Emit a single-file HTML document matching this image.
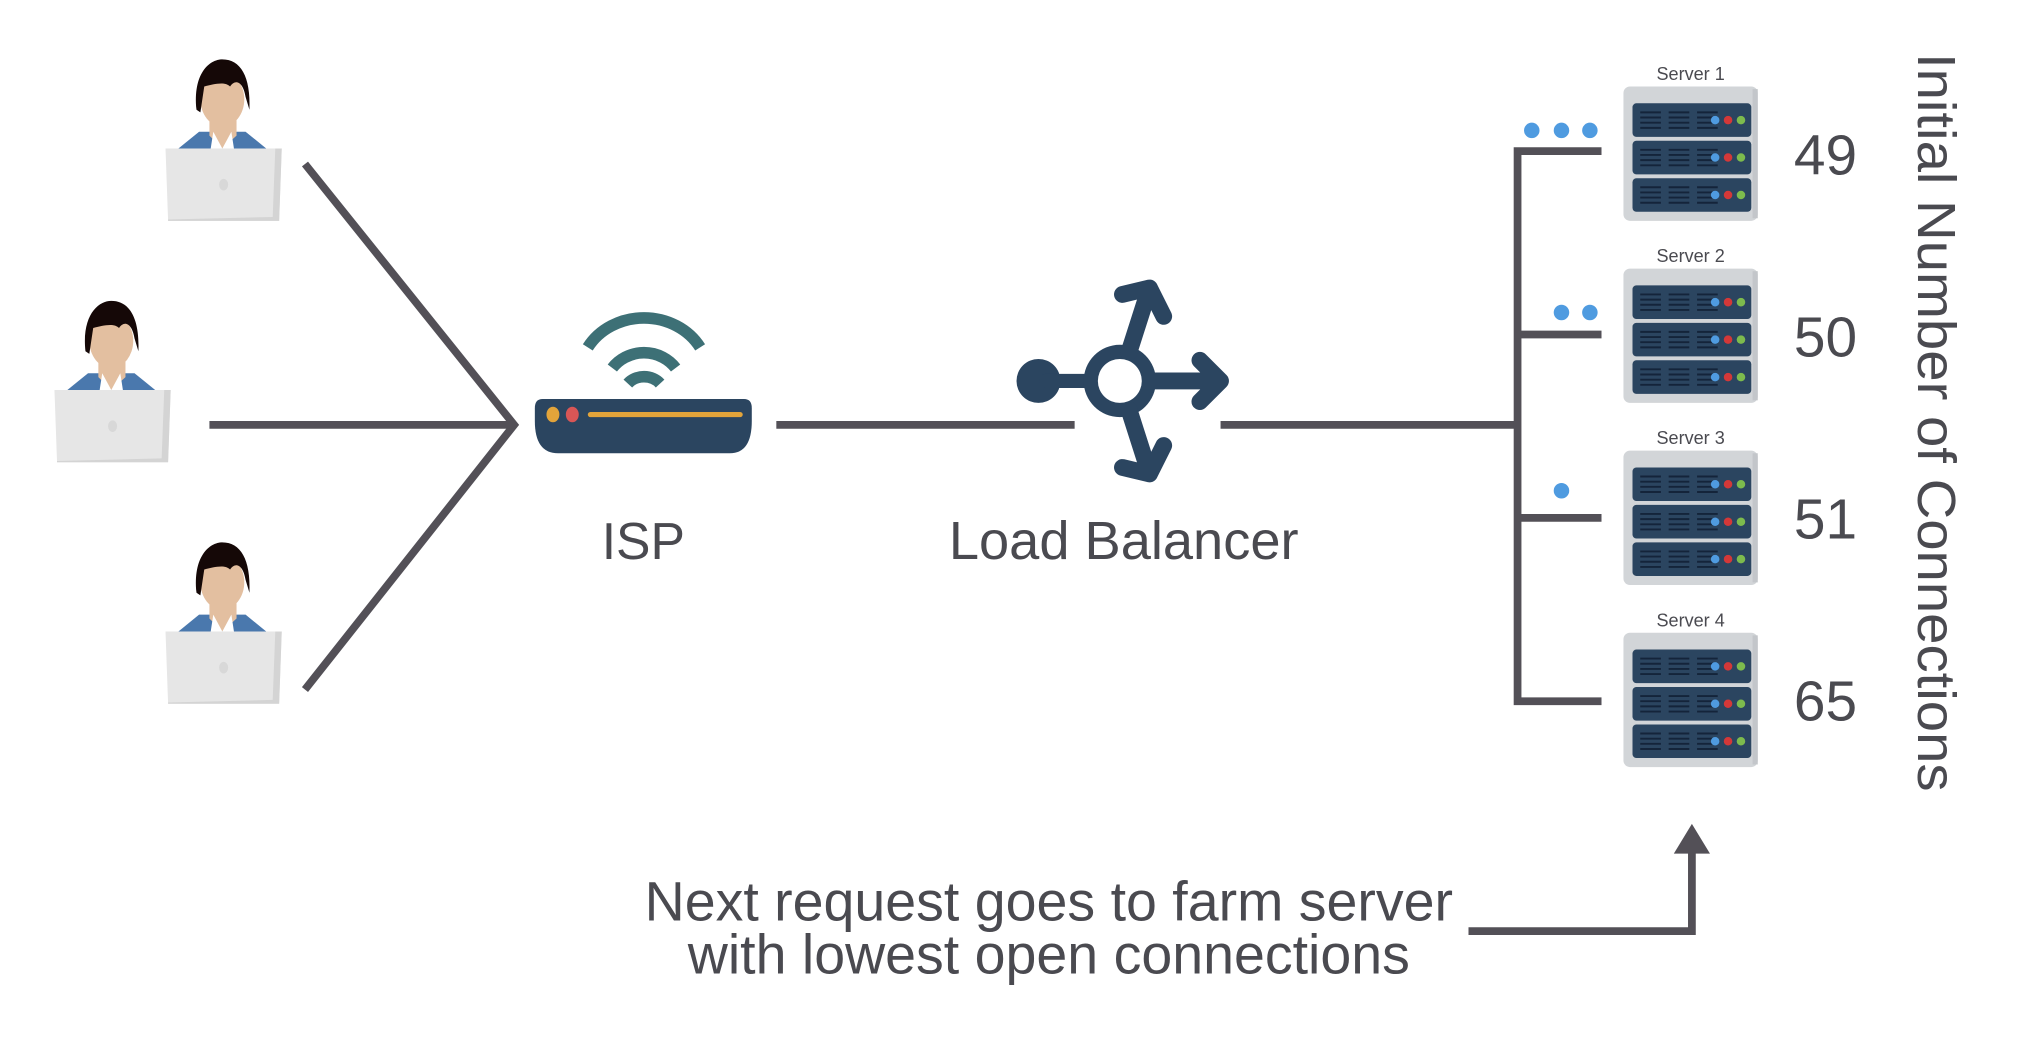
<!DOCTYPE html>
<html><head><meta charset="utf-8"><style>
html,body{margin:0;padding:0;background:#fff;}
svg{display:block}
text{font-family:"Liberation Sans",sans-serif;fill:#4a4a50}
</style></head><body>
<svg width="2024" height="1046" viewBox="0 -1 1567 810" xmlns="http://www.w3.org/2000/svg">
<defs>
<g id="person">
  <path d="M-34,44 L-18,31 L18,31 L34,44 Z" fill="#4a78ad"/>
  <path d="M-10,22 L11,22 L11,34 L0,44 L-10,34 Z" fill="#e3bfa0"/>
  <path d="M-7,31 L0,44 L7,31 L9,44 L-9,44Z" fill="#fff"/>
  <ellipse cx="0" cy="6" rx="17" ry="21" fill="#e3bfa0"/>
  <path d="M-20,14 C-23,-14 -10,-25 0,-25 C14,-25 22,-12 21,14 L18,4 C16,-8 10,-10 6,-4 C2,-8 -6,-6 -14,-4 L-17,16 Z" fill="#150807"/>
  <path d="M-44,44 L46,44 L44,100 L-42,100 Z" fill="#e6e6e6"/>
  <path d="M41,44 L46,44 L44,100 L-42,100 L-42,99 L39,97 Z" fill="#d4d4d4"/>
  <ellipse cx="1" cy="72" rx="3.5" ry="4.5" fill="#d8d8d8"/>
</g>
<g id="server">
  <rect x="0" y="0" width="104" height="104" rx="5" fill="#d2d5d8"/>
  <rect x="100" y="2" width="4" height="100" fill="#c3c6ca"/>
  <g id="unit">
    <rect x="7" y="13" width="92" height="26" rx="3" fill="#2b4560"/>
    <g stroke="#14243a" stroke-width="1.5">
      <path d="M13,20h16M13,24h16M13,28h16M13,32h16M35,20h16M35,24h16M35,28h16M35,32h16M57,20h16M57,24h16M57,28h16M57,32h16"/>
    </g>
    <circle cx="71" cy="26" r="3.3" fill="#4f9be0"/>
    <circle cx="81" cy="26" r="3.3" fill="#d43838"/>
    <circle cx="91" cy="26" r="3.3" fill="#7dbb4d"/>
  </g>
  <use href="#unit" y="29"/>
  <use href="#unit" y="58"/>
</g>
</defs>

<use href="#person" x="172" y="70"/>
<use href="#person" x="86" y="257"/>
<use href="#person" x="172" y="444"/>

<g stroke="#535057" stroke-width="6" fill="none">
  <path d="M236,126 L398,328 L236,533"/>
  <path d="M162,328 L398,328"/>
  <path d="M601,328 L832,328"/>
  <path d="M945,328 L1175,328"/>
  <path d="M1240,116 L1175,116 L1175,542 L1240,542"/>
  <path d="M1175,258 L1240,258 M1175,400 L1240,400"/>
  <path d="M1137,720 L1310,720 L1310,656"/>
</g>
<path d="M1296,660 L1310,637 L1324,660 Z" fill="#535057"/>

<!-- router -->
<g fill="none" stroke="#3d7076" stroke-width="9">
  <path d="M455,268 A50,45 0 0 1 542,268"/>
  <path d="M474,284 A30,28 0 0 1 523,284"/>
  <path d="M486,296 A16,14 0 0 1 511,296"/>
</g>
<path d="M420,308 L576,308 Q582,308 582,315 L582,325 Q582,350 565,350 L432,350 Q414,350 414,325 L414,315 Q414,308 420,308 Z" fill="#2b4560"/>
<ellipse cx="428" cy="320" rx="5" ry="6" fill="#e3a43a"/>
<ellipse cx="443" cy="320" rx="5" ry="6" fill="#d95656"/>
<rect x="455" y="318" width="120" height="4" rx="2" fill="#e3a43a"/>
<text x="498" y="432" font-size="40" text-anchor="middle">ISP</text>

<!-- load balancer -->
<g fill="#2b4560" stroke="#2b4560" stroke-linecap="round" stroke-linejoin="round">
  <circle cx="804" cy="294" r="17" stroke="none"/>
  <path d="M810,294 L850,294" stroke-width="11"/>
  <circle cx="867" cy="294" r="28" stroke="none"/>
  <path d="M874,272 L890,222 M890,222 L869,227 M890,222 L901,244" stroke-width="13" fill="none"/>
  <path d="M885,294 L945,294 M945,294 L929,278 M945,294 L929,310" stroke-width="13" fill="none"/>
  <path d="M874,316 L890,366 M890,366 L869,361 M890,366 L901,344" stroke-width="13" fill="none"/>
  <circle cx="867" cy="294" r="17" fill="#fff" stroke="none"/>
</g>
<text x="870" y="432" font-size="42" text-anchor="middle">Load Balancer</text>

<!-- dots -->
<g fill="#4f9be0">
  <circle cx="1186" cy="100" r="6"/><circle cx="1209" cy="100" r="6"/><circle cx="1231" cy="100" r="6"/>
  <circle cx="1209" cy="241" r="6"/><circle cx="1231" cy="241" r="6"/>
  <circle cx="1209" cy="379" r="6"/>
</g>

<!-- servers -->
<use href="#server" x="1257" y="66"/>
<use href="#server" x="1257" y="207"/>
<use href="#server" x="1257" y="348"/>
<use href="#server" x="1257" y="489"/>
<g font-size="14" text-anchor="middle">
  <text x="1309" y="61">Server 1</text>
  <text x="1309" y="202">Server 2</text>
  <text x="1309" y="343">Server 3</text>
  <text x="1309" y="484">Server 4</text>
</g>
<g font-size="44">
  <text x="1389" y="134">49</text>
  <text x="1389" y="275">50</text>
  <text x="1389" y="416">51</text>
  <text x="1389" y="557">65</text>
</g>
<text transform="translate(1485,40) rotate(90)" font-size="42" textLength="572" lengthAdjust="spacingAndGlyphs">Initial Number of Connections</text>

<g font-size="43" text-anchor="middle">
  <text x="812" y="712">Next request goes to farm server</text>
  <text x="812" y="753">with lowest open connections</text>
</g>
</svg>
</body></html>
